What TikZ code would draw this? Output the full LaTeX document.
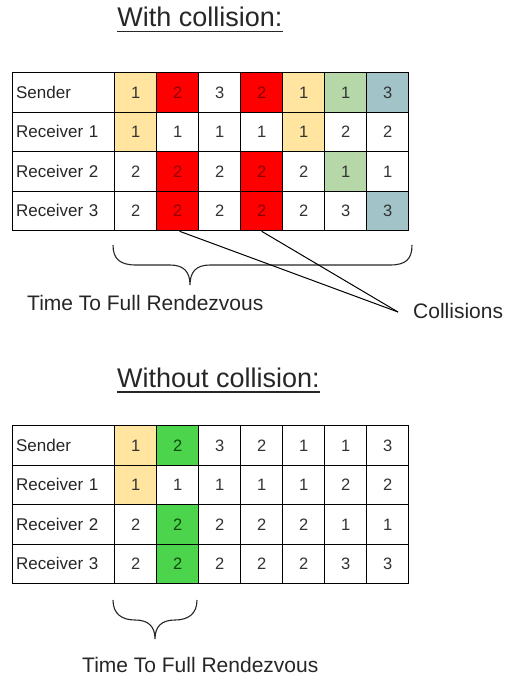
\documentclass[tikz,border=0pt]{standalone}
\usepackage{fontspec}
\setmainfont{Liberation Sans}
\definecolor{cW}{HTML}{FFFFFF}\definecolor{tW}{HTML}{333333}
\definecolor{cY}{HTML}{FFE5A0}\definecolor{tY}{HTML}{333333}
\definecolor{cR}{HTML}{FF0000}\definecolor{tR}{HTML}{8E0000}
\definecolor{cG}{HTML}{B6D7A8}\definecolor{tG}{HTML}{333333}
\definecolor{cB}{HTML}{A2C4C9}\definecolor{tB}{HTML}{333333}
\definecolor{cN}{HTML}{4CD44C}\definecolor{tN}{HTML}{0E4A0E}
\newcommand\myrow[5]{%
  \node[lab] (#1-#2-0) at (12,#3) {#4};
  \foreach \v/\f [count=\c] in {#5} {
    \node[cell, fill=c\f, text=t\f] (#1-#2-\c) at ({114+42*(\c-1)},#3) {\v};
  }
}
\begin{document}
\begin{tikzpicture}[x=1pt,y=-1pt,
  cell/.style={draw=black, line width=1.3pt, minimum width=42pt, minimum height=39.5pt,
    anchor=north west, inner sep=0pt, font=\fontsize{16.5}{16.5}\selectfont},
  lab/.style={draw=black, line width=1.3pt, text width=95pt, inner xsep=3.5pt, inner ysep=0pt,
    minimum height=39.5pt, anchor=north west, align=left, text=black!85,
    font=\fontsize{17}{17}\selectfont},
  title/.style={anchor=base, inner sep=0pt, text=black!85, font=\fontsize{27}{27}\selectfont},
  note/.style={anchor=base west, inner sep=0pt, text=black!85, font=\fontsize{21}{21}\selectfont},
  uline/.style={line width=1.6pt, black!85},
  brace/.style={line width=1.1pt, black!85},
  conn/.style={line width=1pt, black}]
\useasboundingbox (0,0) rectangle (511,677);

% ---------- With collision ----------
\node[title] (t1) at (200,26.5) {With collision:};
\draw[uline] ([yshift=-5pt]t1.base west) -- ([yshift=-5pt]t1.base east);

\myrow{a}{1}{72}{Sender}{1/Y,2/R,3/W,2/R,1/Y,1/G,3/B}
\myrow{a}{2}{111.5}{Receiver 1}{1/Y,1/W,1/W,1/W,1/Y,2/W,2/W}
\myrow{a}{3}{151}{Receiver 2}{2/W,2/R,2/W,2/R,2/W,1/G,1/W}
\myrow{a}{4}{190.5}{Receiver 3}{2/W,2/R,2/W,2/R,2/W,3/W,3/B}

\draw[brace] (113,245) .. controls (113,259) and (120,265) .. (136,265) -- (170,265)
  .. controls (184,265) and (190,272) .. (190,285)
  .. controls (190,272) and (196,265) .. (210,265) -- (390,265)
  .. controls (406,265) and (412,259) .. (412,245);
\node[note] (ttf1) at (27,310) {Time To Full Rendezvous};

\coordinate (cp) at (398,312);
\node[note] (col) at (413,318.5) {Collisions};
\draw[conn] ([xshift=2pt]a-4-2.south) -- (cp);
\draw[conn] (a-4-4.south) -- (cp);

% ---------- Without collision ----------
\node[title] (t2) at (218.5,387) {Without collision:};
\draw[uline] ([yshift=-5pt]t2.base west) -- ([yshift=-5pt]t2.base east);

\myrow{b}{1}{425}{Sender}{1/Y,2/N,3/W,2/W,1/W,1/W,3/W}
\myrow{b}{2}{464.5}{Receiver 1}{1/Y,1/W,1/W,1/W,1/W,2/W,2/W}
\myrow{b}{3}{504}{Receiver 2}{2/W,2/N,2/W,2/W,2/W,1/W,1/W}
\myrow{b}{4}{543.5}{Receiver 3}{2/W,2/N,2/W,2/W,2/W,3/W,3/W}

\draw[brace] (113,600) .. controls (113,614) and (122,620) .. (135,620)
  .. controls (148,620) and (155,626) .. (155,639)
  .. controls (155,626) and (162,620) .. (175,620)
  .. controls (188,620) and (197,614) .. (197,600);
\node[note] (ttf2) at (82,672) {Time To Full Rendezvous};
\end{tikzpicture}
\end{document}
